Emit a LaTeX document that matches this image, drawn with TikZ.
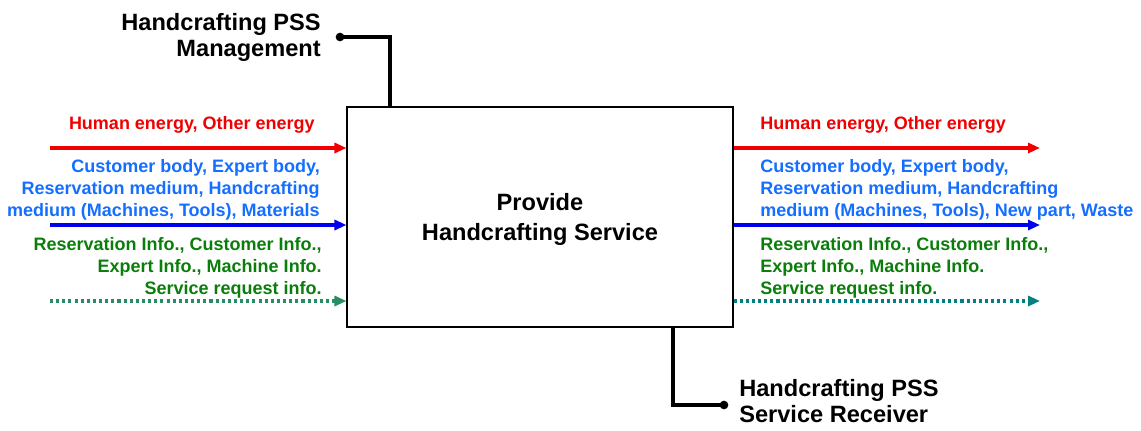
\documentclass[tikz,border=0pt]{standalone}
\usepackage{fontspec}
\setmainfont{Liberation Sans}
\usetikzlibrary{arrows.meta,calc}
\definecolor{cred}{RGB}{240,0,0}
\definecolor{cbluetxt}{RGB}{20,110,255}
\definecolor{cblue}{RGB}{0,0,240}
\definecolor{cgreen}{RGB}{10,125,10}
\definecolor{cdotL}{RGB}{40,140,100}
\definecolor{cdotR}{RGB}{0,128,128}
\tikzset{
  side/.style={font=\fontsize{13.5}{16.7}\selectfont\bfseries, inner sep=0pt},
  ctl/.style={font=\fontsize{17.7}{19.5}\selectfont\bfseries, inner sep=0pt},
  flow/.style={line width=2.6pt, -{Triangle[length=9pt,width=7.5pt]}},
  dotflow/.style={line width=2.6pt, dash pattern=on 2.3pt off 2.3pt, -{Triangle[length=9pt,width=7.5pt]}},
  ctlline/.style={line width=2.8pt},
  dotend/.style={circle, fill=black, inner sep=0pt, minimum size=6.5pt},
}
\begin{document}
\begin{tikzpicture}[x=0.75pt,y=-0.75pt]
\useasboundingbox (0,0) rectangle (1141,430);
% main box
\node[draw=black, line width=0.8pt, minimum width=386*0.75pt, minimum height=220*0.75pt, inner sep=0pt] (box) at (540,217) {};
\node[align=center, inner sep=0pt, font=\fontsize{17.7}{22.5}\selectfont\bfseries] (title) at (540,219.5)
      {Provide\\Handcrafting Service};
% left inputs
\coordinate (inR) at (50,148);
\coordinate (inB) at (50,225);
\coordinate (inG) at (50,301);
\draw[flow, cred] (inR) -- (inR -| box.west);
\draw[flow, cblue] (inB) -- (inB -| box.west);
\draw[dotflow, cdotL] (inG) -- (inG -| box.west);
\node[side, text=cred, anchor=east, align=right] (lR) at (315,125) {Human energy, Other energy};
\node[side, text=cbluetxt, anchor=east, align=right] (lB) at (320,190)
  {Customer body, Expert body,\\Reservation medium, Handcrafting\\medium (Machines, Tools), Materials};
\node[side, text=cgreen, anchor=east, align=right] (lG) at (322,268)
  {Reservation Info., Customer Info.,\\Expert Info., Machine Info.\\Service request info.};
% right outputs
\coordinate (outR) at (1040,148);
\coordinate (outB) at (1040,225);
\coordinate (outG) at (1040,301);
\draw[flow, cred] (outR -| box.east) -- (outR);
\draw[flow, cblue] (outB -| box.east) -- (outB);
\draw[dotflow, cdotR] (outG -| box.east) -- (outG);
\node[side, text=cred, anchor=west, align=left] (rR) at (760,125) {Human energy, Other energy};
\node[side, text=cbluetxt, anchor=west, align=left] (rB) at (760,190)
  {Customer body, Expert body,\\Reservation medium, Handcrafting\\medium (Machines, Tools), New part, Waste};
\node[side, text=cgreen, anchor=west, align=left] (rG) at (760,268)
  {Reservation Info., Customer Info.,\\Expert Info., Machine Info.\\Service request info.};
% control
\node[dotend] (cdot) at (340,37) {};
\node[ctl, anchor=east, align=right] (ctlT) at (321,37.5) {Handcrafting PSS\\Management};
\coordinate (cbend) at (390,37);
\draw[ctlline] (cdot.center) -- (cbend) -- (cbend |- box.north);
% mechanism
\node[dotend] (mdot) at (724,405) {};
\node[ctl, anchor=west, align=left] (mechT) at (739,401) {Handcrafting PSS\\Service Receiver};
\coordinate (mbend) at (673,405);
\draw[ctlline] (mbend |- box.south) -- (mbend) -- (mdot.center);
\end{tikzpicture}
\end{document}
